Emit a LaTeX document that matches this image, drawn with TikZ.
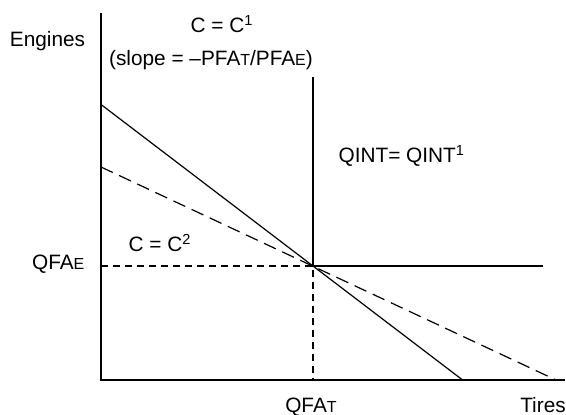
\documentclass[tikz,border=0pt]{standalone}
\usepackage{fontspec}
\setmainfont{Liberation Sans}
\newcommand{\sml}[1]{{\fontsize{8}{9}\selectfont #1}}
\begin{document}
\begin{tikzpicture}[x=0.5pt, y=-0.5pt, line width=0.6pt,
    lbl/.style={inner sep=0pt, font=\fontsize{10.4}{12.5}\selectfont},
    guide/.style={dash pattern=on 3.5pt off 2.5pt},
    budget/.style={dash pattern=on 6.5pt off 3.5pt}]
      \useasboundingbox (0,0) rectangle (566,415);
      % axes
      \coordinate (O) at (101,380);
      \coordinate (ytop) at (101,13);
      \coordinate (xend) at (565,380);
      \draw (ytop) -- (O) -- (xend);
      % chosen input mix
      \coordinate (P) at (313,266);
      \coordinate (qtop) at (313,77);
      \coordinate (qend) at (543,266);
      \coordinate (PT) at (313,380);
      \coordinate (PE) at (101,266);
      \draw (qtop) -- (P) -- (qend);
      \draw[guide] (PE) -- (P) -- (PT);
      % isocost lines
      \coordinate (c1a) at (101,104.5);
      \coordinate (c1b) at (462.6,380);
      \draw (c1a) -- (c1b);
      \coordinate (c2a) at (101,167);
      \coordinate (c2b) at (556,380);
      \draw[budget] (c2a) -- (c2b);
      % labels
      \node[lbl, anchor=base] (eng) at (47.5,47) {Engines};
      \node[lbl, anchor=base] (tir) at (543,413) {Tires};
      \node[lbl, anchor=base] (cone) at (222,33) {C = C\textsuperscript{1}};
      \node[lbl, anchor=base] (slope) at (211,66) {(slope = \textendash PFA\sml{T}/PFA\sml{E})};
      \node[lbl, anchor=base west] (qint) at (338,163) {QINT= QINT\textsuperscript{1}};
      \node[lbl, anchor=base west] (ctwo) at (128,252) {C = C\textsuperscript{2}};
      \node[lbl, anchor=base east] (qfae) at (85,270) {QFA\sml{E}};
      \node[lbl, anchor=base] (qfat) at (311,413) {QFA\sml{T}};
\end{tikzpicture}
\end{document}
